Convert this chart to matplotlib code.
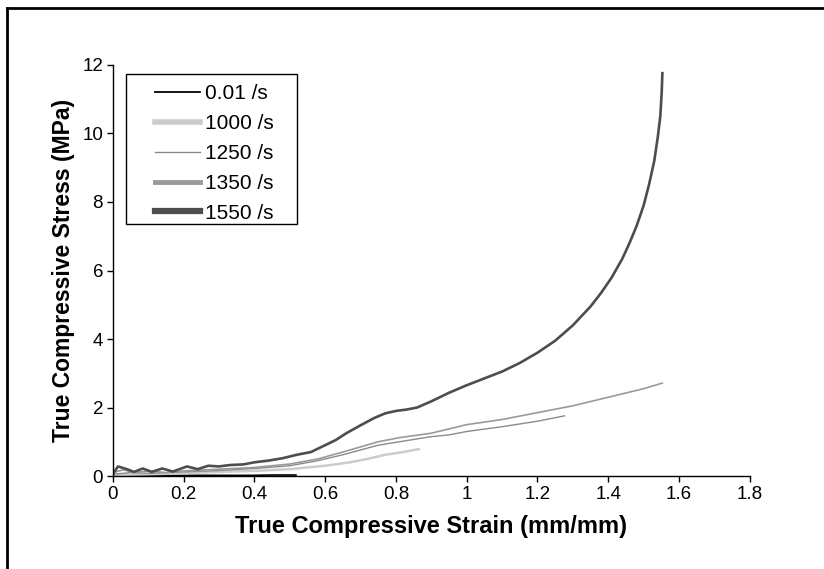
"""True compressive stress-strain curves at several strain rates."""

import matplotlib
matplotlib.use("Agg")
import matplotlib.pyplot as plt
from matplotlib.lines import Line2D
from matplotlib.patches import Rectangle

plt.rcParams["font.family"] = ["Liberation Sans", "DejaVu Sans"]

# ---- data ----
rates = ["0.01 /s", "1000 /s", "1250 /s", "1350 /s", "1550 /s"]

strain_001 = [0.0, 0.1, 0.2, 0.3, 0.4, 0.45, 0.52]
stress_001 = [0.02, 0.02, 0.02, 0.02, 0.02, 0.03, 0.03]

strain_1000 = [0.0, 0.1, 0.2, 0.3, 0.4, 0.5, 0.6, 0.67, 0.72, 0.77, 0.82, 0.868]
stress_1000 = [0.03, 0.05, 0.08, 0.12, 0.15, 0.2, 0.3, 0.4, 0.5, 0.62, 0.7, 0.79]

strain_1250 = [0.0, 0.05, 0.1, 0.2, 0.3, 0.4, 0.5, 0.58, 0.65, 0.7, 0.75,
               0.81, 0.9, 0.95, 1.0, 1.1, 1.2, 1.278]
stress_1250 = [0.05, 0.1, 0.08, 0.12, 0.16, 0.22, 0.3, 0.45, 0.62, 0.76,
               0.9, 1.0, 1.15, 1.2, 1.3, 1.44, 1.6, 1.76]

strain_1350 = [0.0, 0.03, 0.06, 0.1, 0.15, 0.2, 0.3, 0.4, 0.5, 0.58, 0.65,
               0.7, 0.75, 0.81, 0.9, 1.0, 1.1, 1.2, 1.3, 1.4, 1.5, 1.555]
stress_1350 = [0.1, 0.18, 0.1, 0.15, 0.1, 0.15, 0.2, 0.25, 0.35, 0.5, 0.7,
               0.85, 1.0, 1.12, 1.25, 1.5, 1.65, 1.85, 2.05, 2.3, 2.55, 2.72]

strain_1550 = [0.0, 0.015, 0.04, 0.06, 0.085, 0.11, 0.14, 0.17, 0.21, 0.24,
               0.27, 0.30, 0.33, 0.37, 0.40, 0.44, 0.48, 0.52, 0.56, 0.60,
               0.63, 0.66, 0.70, 0.74, 0.77, 0.80, 0.83, 0.86, 0.90, 0.95,
               1.00, 1.05, 1.10, 1.15, 1.20, 1.25, 1.30, 1.35, 1.38, 1.41,
               1.44, 1.46, 1.48, 1.50, 1.515, 1.53, 1.54, 1.547, 1.551, 1.553]
stress_1550 = [0.05, 0.28, 0.2, 0.12, 0.22, 0.12, 0.22, 0.13, 0.28, 0.2,
               0.3, 0.28, 0.32, 0.34, 0.4, 0.45, 0.52, 0.62, 0.7, 0.9,
               1.05, 1.25, 1.48, 1.70, 1.83, 1.90, 1.94, 2.0, 2.18, 2.43,
               2.65, 2.85, 3.05, 3.3, 3.6, 3.95, 4.4, 4.95, 5.35, 5.8,
               6.35, 6.8, 7.3, 7.9, 8.5, 9.2, 9.9, 10.5, 11.2, 11.8]

x_ticks = [0, 0.2, 0.4, 0.6, 0.8, 1, 1.2, 1.4, 1.6, 1.8]
x_tick_labels = ["0", "0.2", "0.4", "0.6", "0.8", "1", "1.2", "1.4", "1.6", "1.8"]
y_ticks = [0, 2, 4, 6, 8, 10, 12]

colors = ["#000000", "#cccccc", "#8a8a8a", "#9a9a9a", "#4d4d4d"]
plot_lw = [1.2, 1.8, 1.0, 1.2, 1.9]
legend_lw = [1.3, 4.0, 1.0, 3.5, 4.5]

fig = plt.figure(figsize=(8.24, 5.69), dpi=100)
ax = fig.add_axes([0.1368, 0.1634, 0.7732, 0.7224])

series = [(strain_001, stress_001), (strain_1000, stress_1000),
          (strain_1250, stress_1250), (strain_1350, stress_1350),
          (strain_1550, stress_1550)]
for (xs, ys), c, lw in zip(series, colors, plot_lw):
    ax.plot(xs, ys, color=c, lw=lw, solid_capstyle="butt",
            solid_joinstyle="round")

ax.set_xlim(0, 1.8)
ax.set_ylim(0, 12)
ax.set_xticks(x_ticks)
ax.set_xticklabels(x_tick_labels)
ax.set_yticks(y_ticks)
ax.tick_params(labelsize=13.5, length=4, width=1, direction="out", pad=3)
for s in ("top", "right"):
    ax.spines[s].set_visible(False)
for s in ("left", "bottom"):
    ax.spines[s].set_linewidth(1.0)

ax.set_xlabel("True Compressive Strain (mm/mm)", fontsize=17,
              fontweight="bold", labelpad=9)
ax.set_ylabel("True Compressive Stress (MPa)", fontsize=16.5,
              fontweight="bold", labelpad=5)

# legend entries without frame, then a separate box around them
handles = [Line2D([], [], color=c, lw=lw) for c, lw in zip(colors, legend_lw)]
leg = ax.legend(handles, rates, loc="upper left", bbox_to_anchor=(0.066, 0.953),
                fontsize=15, frameon=False, handlelength=2.15,
                handletextpad=0.25, labelspacing=0.52, borderpad=0,
                borderaxespad=0)
ax.add_patch(Rectangle((0.0209, 0.613), 0.2684, 0.365, transform=ax.transAxes,
                       fill=False, edgecolor="black", lw=1.0, zorder=5))

# outer frame of the figure (only left and top edges are visible)
fig.add_artist(Line2D([7 / 824, 7 / 824], [0, 1 - 8 / 569],
                      transform=fig.transFigure, color="black", lw=2))
fig.add_artist(Line2D([7 / 824, 1], [1 - 8 / 569, 1 - 8 / 569],
                      transform=fig.transFigure, color="black", lw=2))

fig.savefig("out.png", dpi=100)
